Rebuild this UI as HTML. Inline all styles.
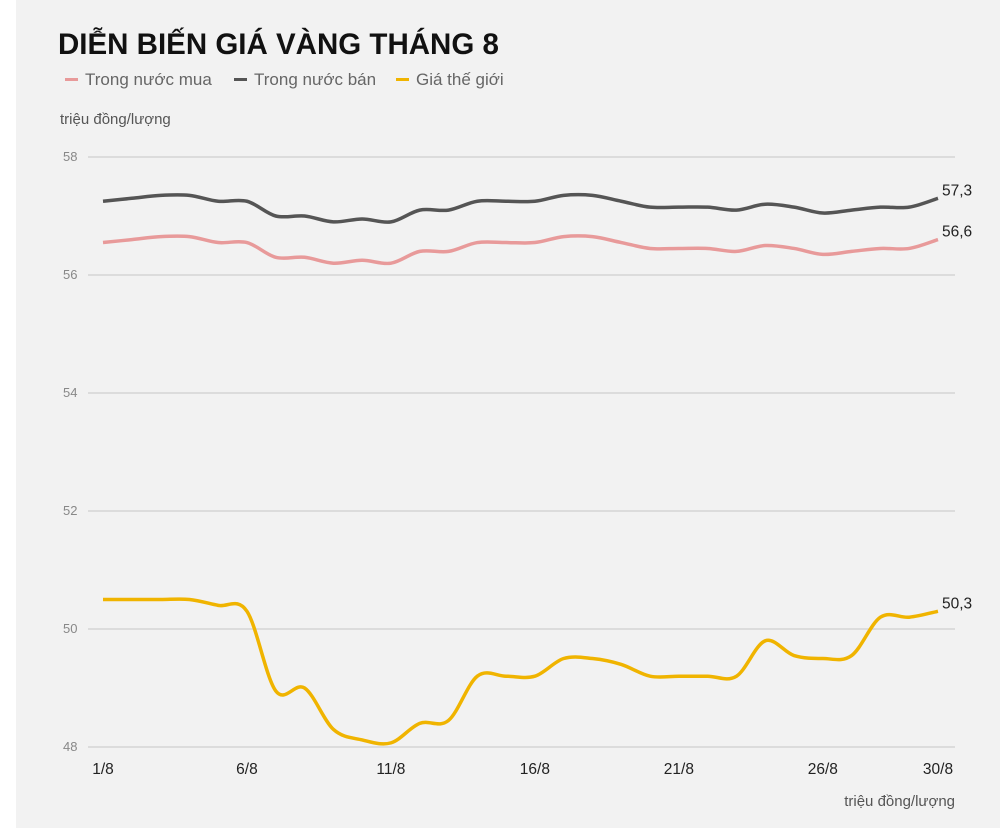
<!DOCTYPE html>
<html><head><meta charset="utf-8">
<style>
html,body{margin:0;padding:0;background:#fff;}
#wrap{position:absolute;left:16px;top:0;width:984px;height:828px;background:#f2f2f2;}
text{font-family:"Liberation Sans",sans-serif;}
</style></head>
<body>
<div id="wrap"></div>
<svg id="chart" width="1000" height="828" style="position:absolute;left:0;top:0">
<text x="58" y="54" font-size="29.5" font-weight="bold" fill="#111">DIỄN BIẾN GIÁ VÀNG THÁNG 8</text>
<g>
<g><rect x="65" y="78" width="13" height="3" fill="#e89a9a"/><text x="85" y="85" font-size="17" fill="#666">Trong nước mua</text></g>
<g><rect x="234" y="78" width="13" height="3" fill="#555"/><text x="254" y="85" font-size="17" fill="#666">Trong nước bán</text></g>
<g><rect x="396" y="78" width="13" height="3" fill="#f0b400"/><text x="416" y="85" font-size="17" fill="#666">Giá thế giới</text></g>
</g>
<text x="60" y="124" font-size="15" fill="#555">triệu đồng/lượng</text>
<text x="955" y="806" font-size="15" fill="#555" text-anchor="end">triệu đồng/lượng</text>
<g id="grid"></g><g id="xt"></g><g id="lines"></g>
</svg>
<script>
const days=[1,2,3,4,5,6,7,8,9,10,11,12,13,14,15,16,17,18,19,20,21,22,23,24,25,26,27,28,29,30];
const yTicks=[48,50,52,54,56,58];
const xTickDays=[1,6,11,16,21,26,30];
const buy=[56.55,56.6,56.65,56.65,56.55,56.55,56.3,56.3,56.2,56.25,56.2,56.4,56.4,56.55,56.55,56.55,56.65,56.65,56.55,56.45,56.45,56.45,56.4,56.5,56.45,56.35,56.4,56.45,56.45,56.6];
const sell=[57.25,57.3,57.35,57.35,57.25,57.25,57.0,57.0,56.9,56.95,56.9,57.1,57.1,57.25,57.25,57.25,57.35,57.35,57.25,57.15,57.15,57.15,57.1,57.2,57.15,57.05,57.1,57.15,57.15,57.3];
const world=[50.5,50.5,50.5,50.5,50.4,50.3,48.95,49.0,48.3,48.12,48.07,48.4,48.45,49.2,49.2,49.2,49.5,49.5,49.4,49.2,49.2,49.2,49.2,49.8,49.55,49.5,49.55,50.2,50.2,50.3];
const ns="http://www.w3.org/2000/svg";
const X=d=>103+(d-1)*(835/29);
const Y=v=>747-(v-48)*59;
const g=document.getElementById('grid'),xt=document.getElementById('xt'),L=document.getElementById('lines');
function mk(tag,at,parent){const e=document.createElementNS(ns,tag);for(const k in at)e.setAttribute(k,at[k]);parent.appendChild(e);return e;}
yTicks.forEach(v=>{
 const l=mk('line',{x1:88,x2:955,y1:Y(v),y2:Y(v),stroke:'#d4d4d4','stroke-width':1.5},g);
 
 
 const t=mk('text',{x:63,y:Y(v)+4,'font-size':13,fill:'#888'},g);t.textContent=v;
 
 
});
xTickDays.forEach(d=>{
 const t=mk('text',{x:X(d),y:774,'font-size':15.5,fill:'#222','text-anchor':'middle'},xt);t.textContent=d+'/8';
 
 
});
function path(vals){
 const p=vals.map((v,i)=>[X(days[i]),Y(v)]);
 let s='M'+p[0][0]+','+p[0][1];
 for(let i=0;i<p.length-1;i++){
  const p0=p[Math.max(0,i-1)],p1=p[i],p2=p[i+1],p3=p[Math.min(p.length-1,i+2)];
  const t=1/6;
  s+=' C'+(p1[0]+(p2[0]-p0[0])*t)+','+(p1[1]+(p2[1]-p0[1])*t)+' '+(p2[0]-(p3[0]-p1[0])*t)+','+(p2[1]-(p3[1]-p1[1])*t)+' '+p2[0]+','+p2[1];
 }
 return s;
}
[[sell,'#555','series-sell'],[buy,'#e89a9a','series-buy'],[world,'#f0b400','series-world']].forEach(([vals,c,n])=>{
 const e=mk('path',{d:path(vals),fill:'none',stroke:c,'stroke-width':3.5,'stroke-linejoin':'round'},L);
 
 
 const last=vals[vals.length-1];
 const t=mk('text',{x:X(30)+4,y:Y(last)-3,'font-size':15.5,fill:'#222'},L);
 t.textContent=last.toFixed(1).replace('.',',');
 
 
});
</script>
</body></html>
